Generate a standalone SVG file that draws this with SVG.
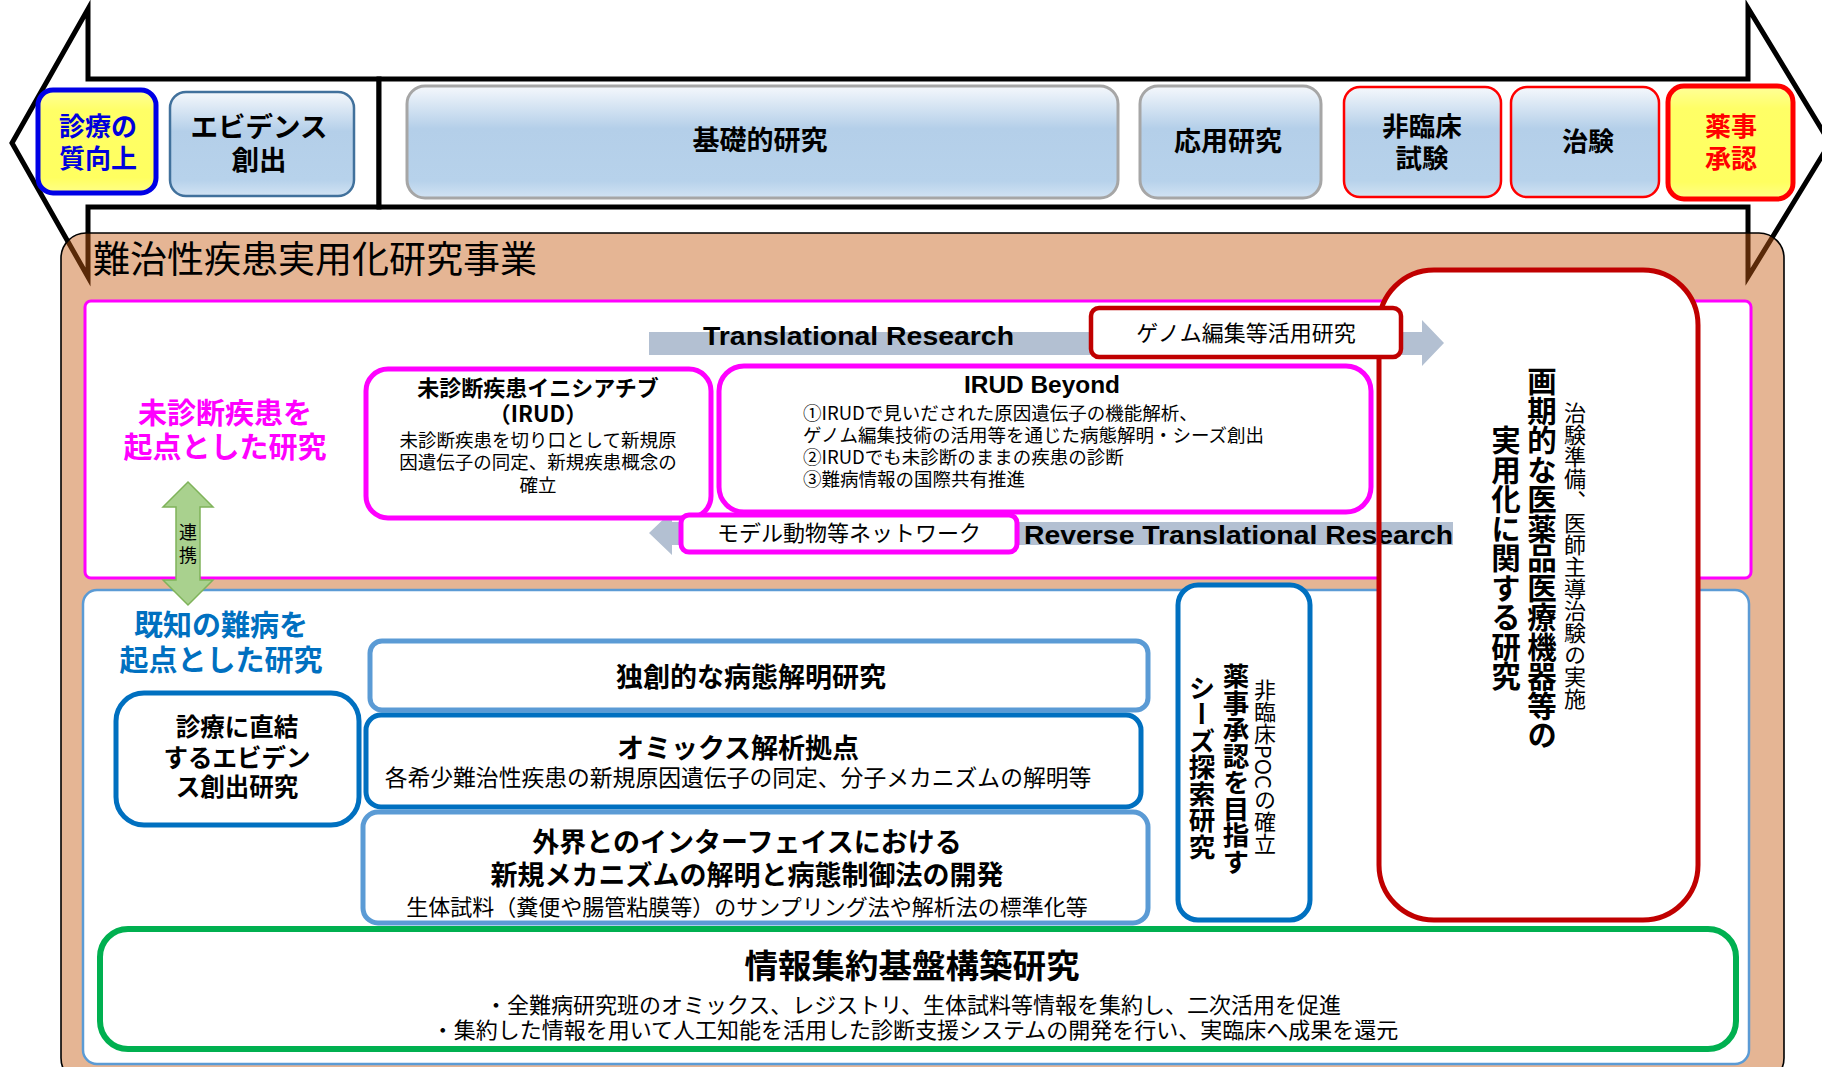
<svg xmlns="http://www.w3.org/2000/svg" width="1822" height="1067" viewBox="0 0 1822 1067">
<defs>
<linearGradient id="gBlue" x1="0" y1="0" x2="0" y2="1">
<stop offset="0" stop-color="#f5f8fc"/>
<stop offset="0.38" stop-color="#b4cfe9"/>
<stop offset="0.85" stop-color="#b7d2eb"/>
<stop offset="1" stop-color="#d2e3f3"/>
</linearGradient>
<linearGradient id="gYellow" x1="0" y1="0" x2="0" y2="1">
<stop offset="0" stop-color="#ffff9a"/>
<stop offset="0.2" stop-color="#ffff66"/>
<stop offset="0.85" stop-color="#ffff60"/>
<stop offset="1" stop-color="#ffff88"/>
</linearGradient>
</defs>
<style>
text { font-family: "Noto Sans CJK JP", "Noto Sans CJK SC", sans-serif; fill: #000; }
.b { font-weight: bold; }
.c { text-anchor: middle; }
.lat { font-family: "Liberation Sans", Arial, sans-serif; font-weight: bold; }
.v { writing-mode: vertical-rl; text-anchor: middle; }
.stage { fill: url(#gBlue); }
.grey { stroke: #a6a6a6; stroke-width: 3; }
.redthin { stroke: #ff0000; stroke-width: 2.5; }
.arrowOut { fill: #fff; stroke: #000; stroke-width: 5; stroke-linejoin: miter; }
.band { fill: #b3c0d2; }
.pinkbox { fill: #fff; stroke: #ff00ff; stroke-width: 5; }
.bluebox { fill: #fff; stroke: #0070c0; stroke-width: 5; }
.ltbluebox { fill: #fff; stroke: #5b9bd5; stroke-width: 5; }
</style>

<!-- timeline arrows -->
<g id="timeline">
<polygon class="arrowOut" points="379,79 88,79 88,9 12,143 88,277 88,207 379,207"/>
<polygon class="arrowOut" points="379,79 1748,79 1748,8 1830,143 1748,277 1748,207 379,207"/>
</g>

<!-- main program panel -->
<g id="panel-program">
<rect x="61" y="233" width="1723" height="850" rx="25" fill="#C55A11" fill-opacity="0.45" stroke="#000" stroke-width="1.6"/>
<text x="93" y="273" font-size="37">難治性疾患実用化研究事業</text>
</g>

<!-- stage boxes -->
<g id="stage-quality">
<rect x="38" y="90" width="118" height="103" rx="15" fill="url(#gYellow)" stroke="#0000e6" stroke-width="5"/>
<text class="b c" x="98" y="136" font-size="26" style="fill:#0000dd">診療の</text>
<text class="b c" x="98" y="168" font-size="26" style="fill:#0000dd">質向上</text>
</g>
<g id="stage-evidence">
<rect class="stage" x="170" y="92" width="184" height="104" rx="16" stroke="#41719c" stroke-width="2.5"/>
<text class="b c" x="259" y="137" font-size="27.5">エビデンス</text>
<text class="b c" x="259" y="170" font-size="27.5">創出</text>
</g>
<g id="stage-basic">
<rect class="stage grey" x="407" y="86" width="711" height="112" rx="18"/>
<text class="b c" x="760" y="150" font-size="27">基礎的研究</text>
</g>
<g id="stage-applied">
<rect class="stage grey" x="1140" y="86" width="181" height="112" rx="18"/>
<text class="b c" x="1228" y="151" font-size="27">応用研究</text>
</g>
<g id="stage-nonclinical">
<rect class="stage redthin" x="1344" y="87" width="157" height="110" rx="16"/>
<text class="b c" x="1422" y="136" font-size="26.5">非臨床</text>
<text class="b c" x="1422" y="168" font-size="26.5">試験</text>
</g>
<g id="stage-trial">
<rect class="stage redthin" x="1511" y="87" width="148" height="110" rx="16"/>
<text class="b c" x="1588" y="151" font-size="26">治験</text>
</g>
<g id="stage-approval">
<rect x="1668" y="86" width="125" height="113" rx="16" fill="url(#gYellow)" stroke="#ff0000" stroke-width="5"/>
<text class="b c" x="1731" y="136" font-size="26" style="fill:#ff0000">薬事</text>
<text class="b c" x="1731" y="168" font-size="26" style="fill:#ff0000">承認</text>
</g>

<!-- sub panels -->
<g id="panel-undiagnosed">
<rect x="85" y="301" width="1666" height="277" rx="6" fill="#fff" stroke="#ff00ff" stroke-width="3"/>
<text class="b c" x="225" y="424" font-size="29" style="fill:#ff00ff">未診断疾患を</text>
<text class="b c" x="225" y="458" font-size="29" style="fill:#ff00ff">起点とした研究</text>
</g>
<g id="panel-known">
<rect x="83" y="590" width="1666" height="474" rx="14" fill="#fff" stroke="#5b9bd5" stroke-width="2.5"/>
<text class="b c" x="221" y="636" font-size="29" style="fill:#0070c0">既知の難病を</text>
<text class="b c" x="221" y="671" font-size="29" style="fill:#0070c0">起点とした研究</text>
</g>

<g id="practical-bg">
<rect x="1379" y="270" width="319" height="650" rx="55" fill="#fff"/>
</g>

<!-- connectors -->
<g id="connectors">
<polygon class="band" points="649,332 1422,332 1422,320 1444,343 1422,366 1422,355 649,355"/>
<polygon class="band" points="649,533 672,511 672,522 1453,522 1453,545 672,545 672,555"/>
<text class="lat" x="703" y="345" font-size="26" textLength="311" lengthAdjust="spacingAndGlyphs">Translational Research</text>
<text class="lat" x="1024" y="544" font-size="26" textLength="429" lengthAdjust="spacingAndGlyphs">Reverse Translational Research</text>
<polygon points="188,482 213,507 200,507 200,580 213,580 188,605 163,580 176,580 176,507 163,507" fill="#a9d18e" stroke="#7fb35a" stroke-width="1.5"/>
<text class="c" x="188" y="539" font-size="18">連</text>
<text class="c" x="188" y="562" font-size="18">携</text>
</g>

<g id="node-irud">
<rect class="pinkbox" x="366" y="369" width="345" height="149" rx="22"/>
<text class="b c" x="538" y="396" font-size="22">未診断疾患イニシアチブ</text>
<text class="b c" x="538" y="422" font-size="22">（IRUD）</text>
<text class="c" x="538" y="447" font-size="18.5">未診断疾患を切り口として新規原</text>
<text class="c" x="538" y="469" font-size="18.5">因遺伝子の同定、新規疾患概念の</text>
<text class="c" x="538" y="492" font-size="18.5">確立</text>
</g>

<g id="node-irud-beyond">
<rect class="pinkbox" x="719" y="366" width="652" height="146" rx="25"/>
<text class="lat" x="964" y="393" font-size="23" textLength="156" lengthAdjust="spacingAndGlyphs">IRUD Beyond</text>
<text x="803" y="420" font-size="18.5">①IRUDで見いだされた原因遺伝子の機能解析、</text>
<text x="803" y="442" font-size="18.5">ゲノム編集技術の活用等を通じた病態解明・シーズ創出</text>
<text x="803" y="464" font-size="18.5">②IRUDでも未診断のままの疾患の診断</text>
<text x="803" y="486" font-size="18.5">③難病情報の国際共有推進</text>
</g>

<g id="node-model">
<rect class="pinkbox" x="681" y="515" width="336" height="37" rx="8"/>
<text class="c" x="849" y="541" font-size="22">モデル動物等ネットワーク</text>
</g>

<g id="node-practical">
<rect x="1379" y="270" width="319" height="650" rx="55" fill="none" stroke="#c00000" stroke-width="5"/>
<text class="v" x="1575" y="556" font-size="22">治験準備、医師主導治験の実施</text>
<text class="v b" x="1542" y="558" font-size="29.5">画期的な医薬品医療機器等の</text>
<text class="v b" x="1506" y="558" font-size="29.5">実用化に関する研究</text>
</g>

<g id="node-genome">
<rect x="1091" y="308" width="310" height="49" rx="8" fill="#fff" stroke="#c00000" stroke-width="4.5"/>
<text class="c" x="1246" y="341" font-size="22">ゲノム編集等活用研究</text>
</g>

<g id="node-evidence-research">
<rect class="bluebox" x="116" y="693" width="243" height="132" rx="28"/>
<text class="b c" x="237" y="736" font-size="24.5">診療に直結</text>
<text class="b c" x="237" y="767" font-size="24.5">するエビデン</text>
<text class="b c" x="237" y="796" font-size="24.5">ス創出研究</text>
</g>

<g id="node-pathology">
<rect class="ltbluebox" x="370" y="641" width="778" height="69" rx="12"/>
<text class="b c" x="751" y="687" font-size="27">独創的な病態解明研究</text>
</g>

<g id="node-omics">
<rect class="bluebox" x="366" y="715" width="775" height="92" rx="15"/>
<text class="b c" x="738" y="758" font-size="27">オミックス解析拠点</text>
<text class="c" x="738" y="786" font-size="22.8">各希少難治性疾患の新規原因遺伝子の同定、分子メカニズムの解明等</text>
</g>

<g id="node-interface">
<rect class="ltbluebox" x="363" y="812" width="785" height="111" rx="15"/>
<text class="b c" x="747" y="852" font-size="27">外界とのインターフェイスにおける</text>
<text class="b c" x="747" y="885" font-size="27">新規メカニズムの解明と病態制御法の開発</text>
<text class="c" x="747" y="915" font-size="22">生体試料（糞便や腸管粘膜等）のサンプリング法や解析法の標準化等</text>
</g>

<g id="node-seeds">
<rect class="bluebox" x="1178" y="585" width="132" height="335" rx="20"/>
<text class="v" x="1265" y="767" font-size="22">非臨床POCの確立</text>
<text class="v b" x="1236" y="769" font-size="26.5">薬事承認を目指す</text>
<text class="v b" x="1202" y="767" font-size="26.5">シーズ探索研究</text>
</g>

<g id="node-info">
<rect x="100" y="929" width="1636" height="120" rx="28" fill="#fff" stroke="#00b050" stroke-width="6"/>
<text class="b c" x="912" y="978" font-size="33.5">情報集約基盤構築研究</text>
<text class="c" x="913" y="1013" font-size="22">・全難病研究班のオミックス、レジストリ、生体試料等情報を集約し、二次活用を促進</text>
<text class="c" x="915" y="1038" font-size="22">・集約した情報を用いて人工知能を活用した診断支援システムの開発を行い、実臨床へ成果を還元</text>
</g>
</svg>
